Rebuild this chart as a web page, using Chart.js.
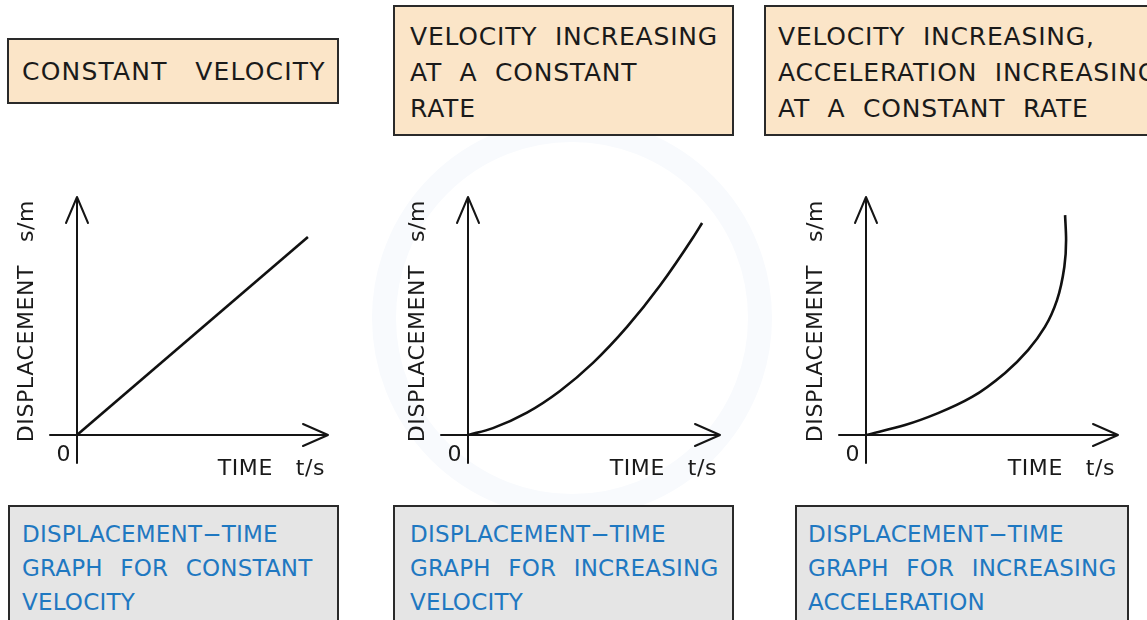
<!DOCTYPE html>
<html>
<head>
<meta charset="utf-8">
<script src="https://cdn.jsdelivr.net/npm/chart.js@4/dist/chart.umd.min.js"></script>
<style>
  html, body { margin: 0; padding: 0; background: #ffffff; }
  body { width: 1147px; height: 620px; position: relative; overflow: hidden; font-family: "DejaVu Sans", sans-serif; }
  .box { position: absolute; box-sizing: border-box; border: 2px solid #2a2a2a; }
  .head { background: #fbe5c8; color: #1a1a1a; }
  .foot { background: #e5e5e5; color: #1f78c1; }
  .txt { position: absolute; white-space: pre; }
  .head .txt { font-size: 25px; letter-spacing: 0.8px; line-height: 36px; }
  .foot .txt { font-size: 23px; letter-spacing: 0.2px; word-spacing: 10px; line-height: 34px; }
  canvas { position: absolute; }
  .wm { position: absolute; border-radius: 50%; border: 24px solid #f8fafd; }
</style>
</head>
<body>
<div class="wm" style="left:372px;top:118px;width:400px;height:400px;box-sizing:border-box;"></div>

<div class="box head" style="left:7px;top:38px;width:332px;height:66px;"><div class="txt" id="h1" style="left:13px;top:14px;letter-spacing:1.2px;"></div></div>
<div class="box head" style="left:393px;top:5px;width:341px;height:131px;"><div class="txt" id="h2" style="left:15px;top:12px;"></div></div>
<div class="box head" style="left:764px;top:5px;width:400px;height:131px;"><div class="txt" id="h3" style="left:12px;top:12px;"></div></div>

<div class="box foot" style="left:8px;top:505px;width:331px;height:140px;"><div class="txt" id="f1" style="left:12px;top:10px;"></div></div>
<div class="box foot" style="left:393px;top:505px;width:341px;height:140px;"><div class="txt" id="f2" style="left:15px;top:10px;"></div></div>
<div class="box foot" style="left:795px;top:505px;width:334px;height:140px;"><div class="txt" id="f3" style="left:11px;top:10px;"></div></div>

<canvas id="c1" width="380" height="340" style="left:0px;top:160px;"></canvas>
<canvas id="c2" width="380" height="340" style="left:380px;top:160px;"></canvas>
<canvas id="c3" width="387" height="340" style="left:760px;top:160px;"></canvas>

<script>
// ---- text ----
const headerTexts = [
  'CONSTANT   VELOCITY',
  'VELOCITY  INCREASING\nAT  A  CONSTANT\nRATE',
  'VELOCITY  INCREASING,\nACCELERATION  INCREASING\nAT  A  CONSTANT  RATE'
];
const footerTexts = [
  'DISPLACEMENT\u2212TIME\nGRAPH FOR CONSTANT\nVELOCITY',
  'DISPLACEMENT\u2212TIME\nGRAPH FOR INCREASING\nVELOCITY',
  'DISPLACEMENT\u2212TIME\nGRAPH FOR INCREASING\nACCELERATION'
];
const originLabel = '0';
const xAxisTitle = 'TIME   t/s';
const yAxisTitle = 'DISPLACEMENT   s/m';

// ---- data (time t, displacement s) ----
const timeConstVel = [0, 9.2];
const dispConstVel = [0, 8.32];

const timeIncVel = [0, 0.99, 2.34, 3.65, 4.96, 6.31, 7.62, 8.93, 9.29];
const dispIncVel = [0, 0.29, 0.94, 1.85, 3.03, 4.54, 6.28, 8.30, 8.91];

const timeIncAcc = [0, 1.55, 2.86, 4.21, 5.52, 6.43, 7.10, 7.58, 7.87, 7.94, 7.90];
const dispIncAcc = [0, 0.42, 0.92, 1.60, 2.61, 3.57, 4.54, 5.67, 7.06, 8.19, 9.24];

const axisMax = 10;

['h1','h2','h3'].forEach((id, i) => document.getElementById(id).textContent = headerTexts[i]);
['f1','f2','f3'].forEach((id, i) => document.getElementById(id).textContent = footerTexts[i]);

const arrowAxes = {
  id: 'arrowAxes',
  beforeDatasetsDraw(chart) {
    const ctx = chart.ctx;
    const xs = chart.scales.x, ys = chart.scales.y;
    const ox = xs.getPixelForValue(0), oy = ys.getPixelForValue(0);
    const xEnd = xs.getPixelForValue(axisMax), yEnd = ys.getPixelForValue(axisMax);
    ctx.save();
    ctx.strokeStyle = '#151515';
    ctx.lineWidth = 2;
    ctx.lineCap = 'round';
    ctx.lineJoin = 'round';
    ctx.beginPath();
    // x axis
    ctx.moveTo(ox - 27, oy); ctx.lineTo(xEnd, oy);
    ctx.moveTo(xEnd - 25, oy - 11); ctx.lineTo(xEnd, oy); ctx.lineTo(xEnd - 25, oy + 11);
    // y axis
    ctx.moveTo(ox, oy + 28); ctx.lineTo(ox, yEnd);
    ctx.moveTo(ox - 11, yEnd + 26); ctx.lineTo(ox, yEnd); ctx.lineTo(ox + 11, yEnd + 26);
    ctx.stroke();

    ctx.fillStyle = '#1a1a1a';
    ctx.font = '22px "DejaVu Sans"';
    ctx.letterSpacing = '0.6px';
    ctx.textBaseline = 'alphabetic';
    ctx.textAlign = 'right';
    ctx.fillText(originLabel, ox - 6, oy + 26);
    ctx.fillText(xAxisTitle, xEnd - 3, oy + 40);
    ctx.translate(ox - 44, yEnd + 3);
    ctx.rotate(-Math.PI / 2);
    ctx.textAlign = 'right';
    ctx.fillText(yAxisTitle, 0, 0);
    ctx.restore();
  }
};

function makeChart(id, tx, sy, pad, indexAxis) {
  const pts = tx.map((t, i) => ({ x: t, y: sy[i] }));
  return new Chart(document.getElementById(id), {
    type: 'line',
    data: { datasets: [{
      data: pts,
      borderColor: '#111111',
      borderWidth: 2.6,
      pointRadius: 0,
      cubicInterpolationMode: 'monotone',
      fill: false
    }]},
    options: {
      indexAxis: indexAxis,
      responsive: false,
      animation: false,
      events: [],
      layout: { padding: pad },
      plugins: { legend: { display: false }, tooltip: { enabled: false }, title: { display: false } },
      scales: {
        x: { type: 'linear', axis: 'x', position: 'bottom', min: 0, max: axisMax, display: false },
        y: { type: 'linear', axis: 'y', position: 'left', min: 0, max: axisMax, display: false }
      }
    },
    plugins: [arrowAxes]
  });
}

makeChart('c1', timeConstVel, dispConstVel, { left: 77, right: 52, top: 37, bottom: 65 }, 'x');
makeChart('c2', timeIncVel, dispIncVel, { left: 88, right: 40, top: 37, bottom: 65 }, 'x');
makeChart('c3', timeIncAcc, dispIncAcc, { left: 106, right: 29, top: 37, bottom: 65 }, 'y');
</script>
</body>
</html>
